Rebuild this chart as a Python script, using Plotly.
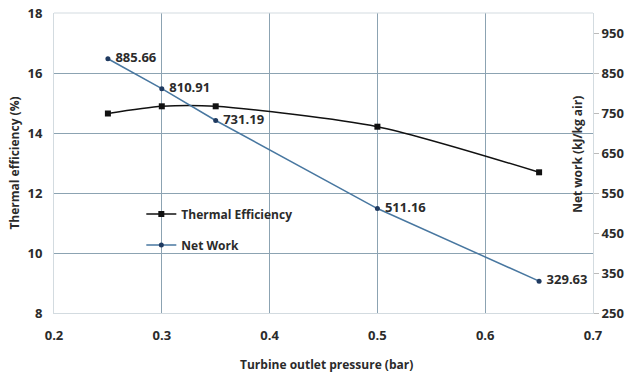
import plotly.graph_objects as go

# Turbine outlet pressure (bar)
pressure = [0.25, 0.30, 0.35, 0.50, 0.65]
# Thermal efficiency (%)
thermal_eff = [14.65, 14.89, 14.89, 14.21, 12.69]
# Net work (kJ/kg air)
net_work = [885.66, 810.91, 731.19, 511.16, 329.63]
net_work_labels = ["\u00a0" + f"{v:.2f}" for v in net_work]

x_ticks = [0.2, 0.3, 0.4, 0.5, 0.6, 0.7]
left_ticks = [8, 10, 12, 14, 16, 18]
right_ticks = [250, 350, 450, 550, 650, 750, 850, 950]

font_family = "Open Sans, Liberation Sans, Arial"
text_color = "#2b2b2b"
grid_color = "#8ca3b2"
frame_color = "#d3dbe0"

fig = go.Figure()

fig.add_trace(go.Scatter(
    x=pressure, y=thermal_eff, name="Thermal Efficiency",
    mode="lines+markers", legendgroup="te",
    line=dict(color="#111111", width=1.5, shape="spline", smoothing=0.7),
    marker=dict(symbol="square", size=6, color="#111111"),
    yaxis="y",
))

fig.add_trace(go.Scatter(
    x=pressure, y=net_work, name="Net Work",
    mode="lines+markers+text", legendgroup="nw",
    text=net_work_labels, textposition="middle right",
    textfont=dict(family=font_family, size=13, color=text_color, weight="bold"),
    line=dict(color="#4877a0", width=1.5),
    marker=dict(symbol="circle", size=5, color="#1f3a60"),
    yaxis="y2",
))

fig.update_layout(
    width=629, height=377,
    margin=dict(l=54, r=36, t=13, b=64, autoexpand=False),
    paper_bgcolor="white", plot_bgcolor="white",
    font=dict(family=font_family, size=12, color=text_color),
    showlegend=True,
    legend=dict(
        x=0.162, y=0.378, xanchor="left", yanchor="top",
        bgcolor="rgba(0,0,0,0)", tracegroupgap=12, itemwidth=30,
        font=dict(family=font_family, size=12, color=text_color, weight="bold"),
    ),
    xaxis=dict(
        range=[0.2, 0.7], tickvals=x_ticks, ticktext=[str(t) for t in x_ticks],
        showgrid=True, gridcolor=grid_color, gridwidth=1,
        showline=True, linecolor=frame_color, mirror=False,
        zeroline=False, ticks="outside", ticklen=10, tickcolor="rgba(0,0,0,0)",
        tickfont=dict(size=13, weight="bold"), automargin=False,
    ),
    yaxis=dict(
        range=[8, 18], tickvals=left_ticks,
        showgrid=True, gridcolor=grid_color, gridwidth=1,
        showline=True, linecolor=frame_color,
        zeroline=False, ticks="outside", ticklen=8, tickcolor="rgba(0,0,0,0)",
        tickfont=dict(size=13, weight="bold"), automargin=False,
    ),
    yaxis2=dict(
        range=[250, 1000], tickvals=right_ticks,
        overlaying="y", side="right",
        showgrid=False, showline=True, linecolor=frame_color,
        zeroline=False, ticks="outside", ticklen=5, tickcolor="#bbbbbb",
        tickfont=dict(size=13, weight="bold"), automargin=False,
    ),
)

# top frame line
fig.add_shape(type="line", xref="paper", yref="paper", x0=0, x1=1, y0=1, y1=1,
              line=dict(color=frame_color, width=1))

title_font = dict(family=font_family, size=12, color=text_color, weight="bold")
fig.add_annotation(text="Turbine outlet pressure (bar)", xref="paper", yref="paper",
                   x=0.505, y=-0.17, xanchor="center", yanchor="middle",
                   showarrow=False, font=title_font)
fig.add_annotation(text="Thermal efficiency (%)", xref="paper", yref="paper",
                   x=-0.075, y=0.5, xanchor="center", yanchor="middle",
                   textangle=-90, showarrow=False, font=title_font)
fig.add_annotation(text="Net work (kJ/kg air)", xref="paper", yref="paper",
                   x=0.97, y=0.53, xanchor="center", yanchor="middle",
                   textangle=-90, showarrow=False, font=title_font)

fig.write_html("out.html")
